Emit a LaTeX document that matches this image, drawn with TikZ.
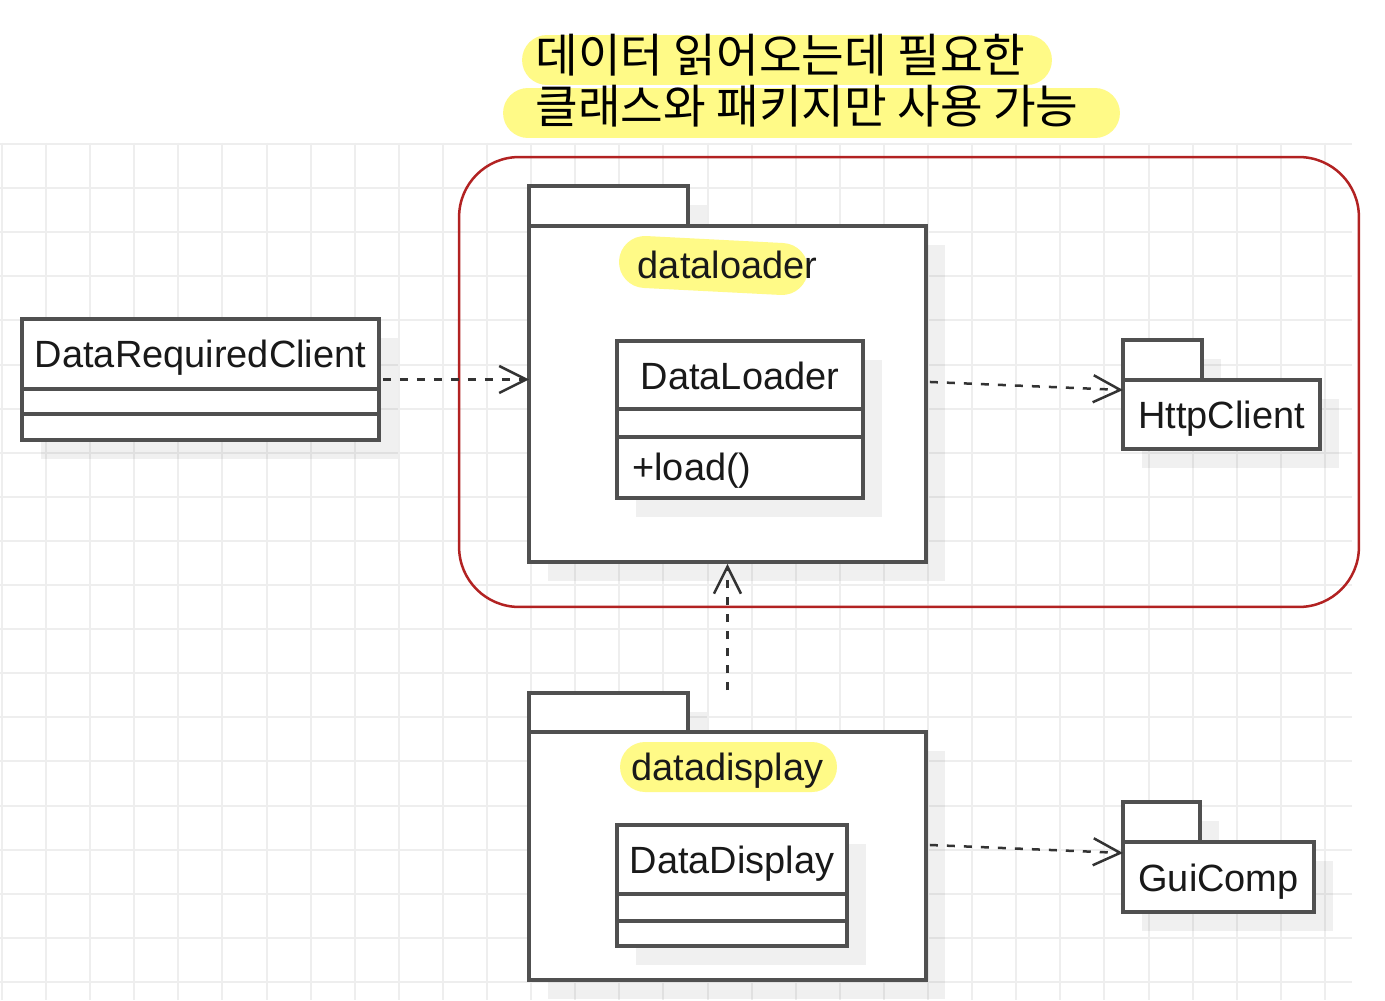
\documentclass[tikz,border=0pt]{standalone}
\usepackage{fontspec}
\setmainfont{Liberation Sans}
\newfontfamily\hangulfont{Noto Sans CJK KR}
\usetikzlibrary{arrows.meta,shadows,shapes.misc}

\definecolor{gridgray}{RGB}{238,238,238}
\definecolor{umlgray}{RGB}{80,80,80}
\definecolor{memoyellow}{RGB}{255,250,135}
\definecolor{scopered}{RGB}{178,34,34}

\tikzset{
  umlbox/.style={draw=umlgray, line width=0.065cm, fill=white, inner sep=0pt, outer sep=0pt,
    anchor=north west,
    drop shadow={shadow xshift=0.38cm, shadow yshift=-0.38cm, fill=black, opacity=0.06}},
  umltext/.style={font={\fontsize{21.6}{24}\selectfont}, text=black!90, inner sep=0pt, anchor=base},
  divider/.style={draw=umlgray, line width=0.065cm},
  dependency/.style={draw=black!80, line width=0.05cm, dash pattern=on 0.16cm off 0.18cm,
    -{Straight Barb[length=0.54cm, width=0.54cm]}},
  memo/.style={rounded rectangle, fill=memoyellow, inner sep=0pt},
  memotext/.style={font={\hangulfont\fontsize{26.4}{29}\selectfont}, inner sep=0pt, anchor=west},
  gridline/.style={draw=gridgray, line width=0.04cm}
}

\begin{document}
\begin{tikzpicture}[x=0.02cm, y=-0.02cm]

\fill[white, use as bounding box] (0,0) rectangle (1385,1000);

\foreach \gx in {0,...,30}
  \draw[gridline] (1.9+44.1*\gx,143) -- (1.9+44.1*\gx,1000);
\foreach \gy in {0,...,19}
  \draw[gridline] (0,144+44.1*\gy) -- (1352,144+44.1*\gy);

% note on top
\node [memo, minimum width=10.6cm, minimum height=1cm] (memobg1) at (787,60) {};
\node [memo, minimum width=12.34cm, minimum height=1cm] (memobg2) at (811.5,113) {};
\node [memotext] (memoline1) at (535,55) {데이터 읽어오는데 필요한};
\node [memotext] (memoline2) at (535,106) {클래스와 패키지만 사용 가능};

\node [draw=scopered, line width=0.05cm, rounded corners=1.2cm, inner sep=0pt,
minimum width=18cm, minimum height=9cm] (boundary) at (909,382) {};

% packages
\node [umlbox, minimum width=3.18cm, minimum height=0.8cm] (loadertab) at (529,186) {};
\node [umlbox, minimum width=7.94cm, minimum height=6.72cm] (loader) at (529,226) {};

\node [umlbox, minimum width=3.18cm, minimum height=0.78cm] (displaytab) at (529,693) {};
\node [umlbox, minimum width=7.94cm, minimum height=4.96cm] (display) at (529,732) {};

\node [umlbox, minimum width=1.58cm, minimum height=0.8cm] (httptab) at (1123,340) {};
\node [umlbox, minimum width=3.94cm, minimum height=1.38cm] (http) at (1123,380) {};
\node [umltext] (httpname) at (1221.5,428) {HttpClient};

\node [umlbox, minimum width=1.54cm, minimum height=0.8cm] (guitab) at (1123,802) {};
\node [umlbox, minimum width=3.82cm, minimum height=1.4cm] (gui) at (1123,842) {};
\node [umltext] (guiname) at (1218.5,891) {GuiComp};

\draw [memoyellow, line width=1.04cm, line cap=round] (645,262) -- (782,269);
\node [umltext] (loadername) at (727.5,278) {dataloader};

\node [memo, minimum width=4.34cm, minimum height=1cm] (displaymark) at (728.5,767) {};
\node [umltext] (displayname) at (727.5,780) {datadisplay};

% classes
\node [umlbox, minimum width=7.14cm, minimum height=2.42cm] (client) at (22,319) {};
\node [umltext] (clientname) at (200.5,367) {DataRequiredClient};
\draw [divider] ([yshift=-1.4cm]client.north west) -- ([yshift=-1.4cm]client.north east);
\draw [divider] ([yshift=-1.9cm]client.north west) -- ([yshift=-1.9cm]client.north east);

\node [umlbox, minimum width=4.92cm, minimum height=3.14cm] (dataloader) at (617,341) {};
\node [umltext] (dataloadername) at (740,389) {DataLoader};
\draw [divider] ([yshift=-1.36cm]dataloader.north west) -- ([yshift=-1.36cm]dataloader.north east);
\draw [divider] ([yshift=-1.92cm]dataloader.north west) -- ([yshift=-1.92cm]dataloader.north east);
\node [umltext, anchor=base west] (loadop) at (632,480) {+load()};

\node [umlbox, minimum width=4.6cm, minimum height=2.42cm] (datadisplay) at (617,825) {};
\node [umltext] (datadisplayname) at (732,873) {DataDisplay};
\draw [divider] ([yshift=-1.38cm]datadisplay.north west) -- ([yshift=-1.38cm]datadisplay.north east);
\draw [divider] ([yshift=-1.92cm]datadisplay.north west) -- ([yshift=-1.92cm]datadisplay.north east);

% dependencies
\draw [dependency, shorten <=0.08cm] (client.east) -- (client.east -| loader.west);
\draw [dependency] ([xshift=0.08cm, yshift=0.24cm]loader.east) -- ([yshift=0.49cm]http.west);
\draw [dependency, shorten >=0.04cm] ([yshift=0.84cm]display.north) -- (loader.south);
\draw [dependency] ([xshift=0.08cm, yshift=0.22cm]display.east) -- ([yshift=0.48cm]gui.west);

\end{tikzpicture}
\end{document}
